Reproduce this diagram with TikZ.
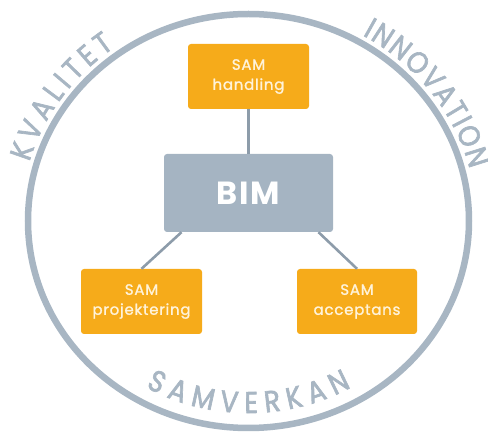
\documentclass[tikz,border=0pt]{standalone}
\usepackage{fontspec}
\setmainfont{Poppins}
\newfontfamily\boxfont{Poppins}[LetterSpace=5, FakeBold=1.3]
\newfontfamily\bimfont{Poppins}[LetterSpace=5]
\newfontfamily\arcfont{Poppins}[FakeBold=2.2, FakeStretch=0.88]
\newcommand\arcsize{\arcfont\fontsize{30}{30}\selectfont}
\usetikzlibrary{decorations.text}

\definecolor{ring}{HTML}{A8B6C3}
\definecolor{samorange}{HTML}{F6AB1A}
\definecolor{bimgray}{HTML}{A5B4C2}
\definecolor{linkgray}{HTML}{8D9CAA}
\definecolor{cream}{HTML}{FFF3DA}

\begin{document}
\begin{tikzpicture}[x=1pt,y=1pt,
  sambox/.style={fill=samorange, rounded corners=3pt, minimum width=121pt,
    minimum height=65pt, inner sep=0pt, text=cream, align=center,
    font=\boxfont\fontsize{15}{20}\selectfont},
  bimbox/.style={fill=bimgray, rounded corners=3pt, minimum width=169pt,
    minimum height=78pt, inner sep=0pt, text=white,
    font=\bimfont\bfseries\fontsize{32}{32}\selectfont},
  link/.style={draw=linkgray, line width=2.6pt},
  arctext/.style={decorate,
    decoration={text along path, text align={fit to path}, text color=ring}}]

\useasboundingbox (0,0) rectangle (488,434);

% outer ring
\draw[ring, line width=6.5pt] (248.5,213) ellipse [x radius=220.5pt, y radius=207pt];

% ring labels
\path[arctext, decoration={text={|\arcsize|KVALITET}}]
  (248.5,213) ++(164:228pt and 214.5pt)
  arc[start angle=164, end angle=126, x radius=228pt, y radius=214.5pt];
\path[arctext, decoration={text={|\arcsize|INNOVATION}}]
  (248.5,213) ++(60:228pt and 214.5pt)
  arc[start angle=60, end angle=14, x radius=228pt, y radius=214.5pt];
\path[arctext, decoration={text={|\arcsize|SAMVERKAN}}]
  (248.5,213) ++(240:205.5pt and 192pt)
  arc[start angle=240, end angle=300, x radius=205.5pt, y radius=192pt];

% boxes
\node[sambox] (handling) at (248.5,357.5) {SAM\\handling};
\node[bimbox] (bim) at (248.5,241) {BIM};
\node[sambox] (proj) at (141.5,132.5) {SAM\\projektering};
\node[sambox, minimum width=120pt] (acc) at (357,132.5) {SAM\\acceptans};

% connectors
\draw[link] (handling.south) -- (bim.north);
\draw[link] (proj.north) -- ([xshift=-67pt]bim.south);
\draw[link] (acc.north) -- ([xshift=70pt]bim.south);

\end{tikzpicture}
\end{document}
